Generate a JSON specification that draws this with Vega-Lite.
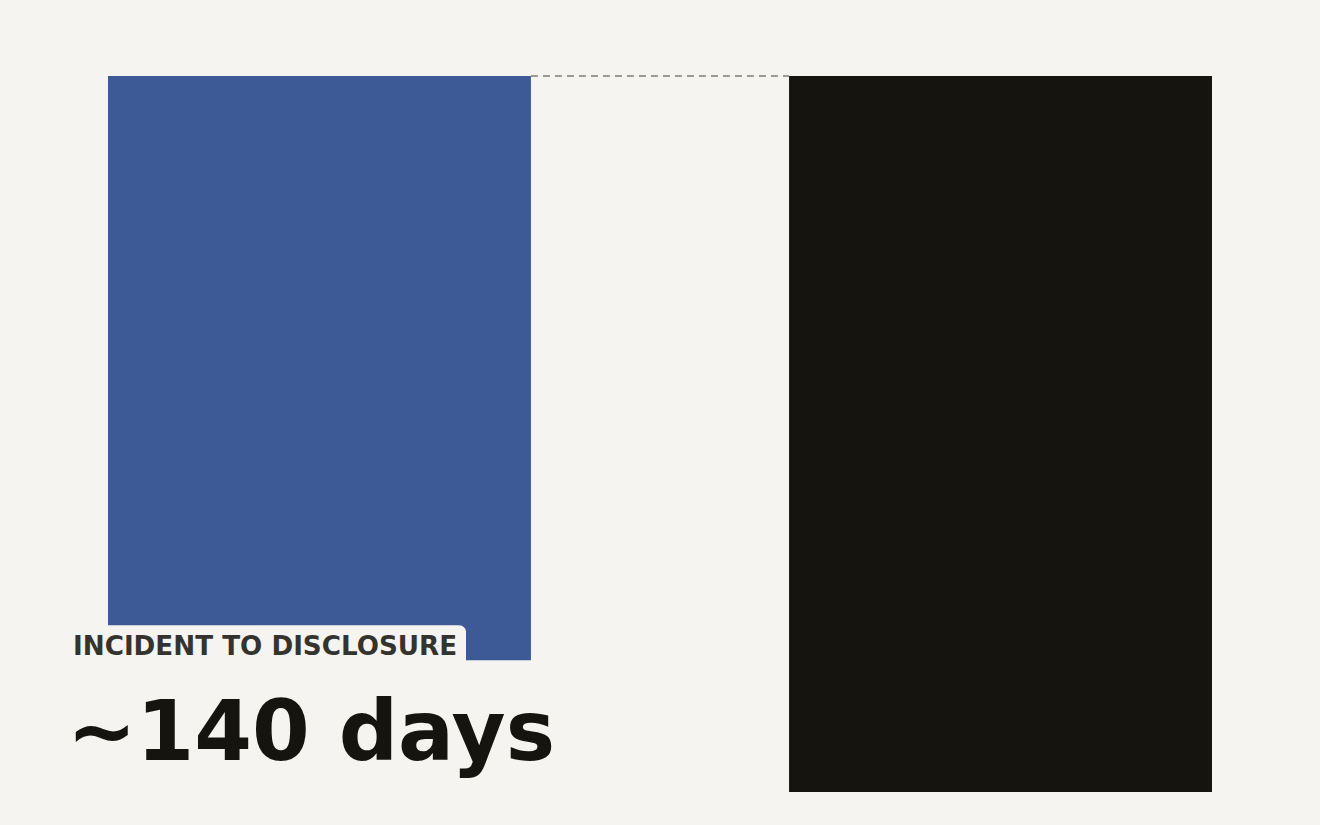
{
  "$schema": "https://vega.github.io/schema/vega-lite/v6.json",
  "width": 1104,
  "height": 716,
  "autosize": {"type": "none"},
  "padding": {"left": 108, "right": 108, "top": 76, "bottom": 33},
  "background": "#f5f4f0",
  "config": {
    "view": {"stroke": null},
    "font": "DejaVu Sans"
  },
  "datasets": {
    "bars": [
      {"stage": "Incident to disclosure", "days": 140, "label": "INCIDENT TO DISCLOSURE", "value": "~140 days"},
      {"stage": "Total", "days": 171.6, "label": "", "value": ""}
    ],
    "connector": [
      {"from": "Incident to disclosure", "to": "Total", "days": 0}
    ]
  },
  "layer": [
    {
      "data": {"name": "bars"},
      "mark": {"type": "bar"},
      "encoding": {
        "x": {
          "field": "stage",
          "type": "nominal",
          "axis": null,
          "scale": {"domain": ["Incident to disclosure", "Total"], "paddingInner": 0.379, "paddingOuter": 0}
        },
        "y": {
          "field": "days",
          "type": "quantitative",
          "axis": null,
          "scale": {"domain": [0, 171.6], "reverse": true, "nice": false}
        },
        "color": {
          "field": "stage",
          "type": "nominal",
          "legend": null,
          "scale": {"domain": ["Incident to disclosure", "Total"], "range": ["#3d5a96", "#15140f"]}
        }
      }
    },
    {
      "data": {"name": "connector"},
      "mark": {"type": "rule", "color": "#9c9a93", "strokeWidth": 2.2, "strokeDash": [7, 5]},
      "encoding": {
        "x": {"field": "from", "type": "nominal", "bandPosition": 1},
        "x2": {"field": "to", "bandPosition": 0},
        "y": {"field": "days", "type": "quantitative"}
      }
    },
    {
      "data": {"name": "bars"},
      "transform": [{"filter": "datum.label != ''"}],
      "mark": {"type": "rect", "color": "#f5f4f0", "cornerRadiusTopRight": 7, "xOffset": -40, "x2Offset": 358, "yOffset": -35, "y2Offset": 1},
      "encoding": {
        "x": {"field": "stage", "type": "nominal", "bandPosition": 0},
        "x2": {"field": "stage", "bandPosition": 0},
        "y": {"field": "days", "type": "quantitative"},
        "y2": {"field": "days"}
      }
    },
    {
      "data": {"name": "bars"},
      "transform": [{"filter": "datum.label != ''"}],
      "mark": {"type": "text", "align": "left", "baseline": "alphabetic", "dx": -35, "dy": -5, "fontSize": 26.2, "fontWeight": "bold", "color": "#35332e"},
      "encoding": {
        "x": {"field": "stage", "type": "nominal", "bandPosition": 0},
        "y": {"field": "days", "type": "quantitative"},
        "text": {"field": "label"}
      }
    },
    {
      "data": {"name": "bars"},
      "transform": [{"filter": "datum.value != ''"}],
      "mark": {"type": "text", "align": "left", "baseline": "alphabetic", "dx": -41, "dy": 100, "fontSize": 83, "fontWeight": "bold", "color": "#15140f"},
      "encoding": {
        "x": {"field": "stage", "type": "nominal", "bandPosition": 0},
        "y": {"field": "days", "type": "quantitative"},
        "text": {"field": "value"}
      }
    }
  ]
}
